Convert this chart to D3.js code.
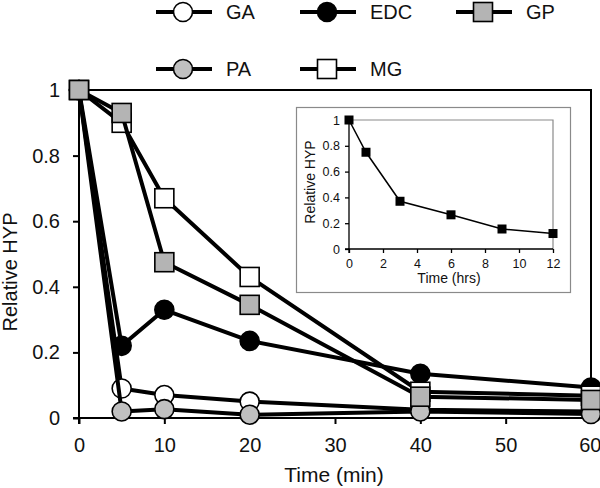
<!DOCTYPE html>
<html><head><meta charset="utf-8">
<script src="https://cdn.jsdelivr.net/npm/d3@7"></script>
<style>body{margin:0;background:#fff}svg{display:block}text{font-family:"Liberation Sans",Arial,sans-serif;fill:#111}</style>
</head><body>
<script>
const times = [0, 5, 10, 20, 40, 60];
const seriesNames = ["GA", "PA", "EDC", "MG", "GP"];
const GA  = [1, 0.09, 0.07, 0.05, 0.025, 0.02];
const PA  = [1, 0.02, 0.027, 0.01, 0.02, 0.012];
const EDC = [1, 0.22, 0.33, 0.235, 0.135, 0.093];
const MG  = [1, 0.90, 0.67, 0.43, 0.08, 0.068];
const GP  = [1, 0.93, 0.475, 0.345, 0.065, 0.055];
const xTicks = [0, 10, 20, 30, 40, 50, 60];
const yTicks = [0, 0.2, 0.4, 0.6, 0.8, 1];
const legendOrder = ["GA", "EDC", "GP", "PA", "MG"];
const insetHours = [0, 1, 3, 6, 9, 12];
const insetValues = [1, 0.75, 0.37, 0.265, 0.155, 0.12];
const insetXTicks = [0, 2, 4, 6, 8, 10, 12];
const insetYTicks = [0, 0.2, 0.4, 0.6, 0.8, 1];

const valuesBy = {GA, PA, EDC, MG, GP};
const style = {
  GA: {shape: "circle", fill: "#ffffff"},
  PA: {shape: "circle", fill: "#c0c0c0"},
  EDC: {shape: "circle", fill: "#000000"},
  MG: {shape: "square", fill: "#ffffff"},
  GP: {shape: "square", fill: "#b4b4b4"}
};

const W = 600, H = 488;
const svg = d3.select("body").append("svg").attr("width", W).attr("height", H);

const x = d3.scaleLinear().domain([0, 60]).range([79, 591]);
const y = d3.scaleLinear().domain([0, 1]).range([418, 90]);

function marker(g, name, cx, cy) {
  const s = style[name];
  if (s.shape === "circle") {
    g.append("circle").attr("cx", cx).attr("cy", cy).attr("r", 9.5)
      .attr("fill", s.fill).attr("stroke", "#000").attr("stroke-width", 1.6);
  } else {
    g.append("rect").attr("x", cx - 9.5).attr("y", cy - 9.5).attr("width", 19).attr("height", 19)
      .attr("fill", s.fill).attr("stroke", "#000").attr("stroke-width", 1.6);
  }
}

// frame (top and right)
svg.append("path").attr("d", `M${x(0)},${y(1)}H${x(60)}V${y(0)}`)
  .attr("fill", "none").attr("stroke", "#000").attr("stroke-width", 2);

// axes
const fmt = d => d === 0 ? "0" : d === 1 ? "1" : d3.format(".1f")(d);
const xAxis = svg.append("g").attr("transform", `translate(0,${y(0)})`)
  .call(d3.axisBottom(x).tickValues(xTicks).tickSize(6).tickPadding(14).tickFormat(d3.format("d")));
const yAxis = svg.append("g").attr("transform", `translate(${x(0)},0)`)
  .call(d3.axisLeft(y).tickValues(yTicks).tickSize(6).tickPadding(13).tickFormat(fmt));
[xAxis, yAxis].forEach(a => {
  a.select(".domain").attr("stroke", "#000").attr("stroke-width", 2);
  a.selectAll(".tick line").attr("stroke", "#000").attr("stroke-width", 2);
  a.selectAll(".tick text").attr("font-size", 20).attr("fill", "#111")
    .attr("font-family", "'Liberation Sans',Arial,sans-serif");
});
xAxis.selectAll(".tick text").filter(d => d === 60).attr("text-anchor", "end").attr("x", 10);
yAxis.select(".domain").attr("d", `M-6,${y(0)}H0V${y(1)}`);
xAxis.select(".domain").attr("d", `M${x(0)},6V0H${x(60)}`);

svg.append("text").attr("x", 334).attr("y", 482).attr("text-anchor", "middle")
  .attr("font-size", 21).text("Time (min)");
svg.append("text").attr("transform", "translate(17,272) rotate(-90)").attr("text-anchor", "middle")
  .attr("font-size", 20).text("Relative HYP");

// inset
const ix = d3.scaleLinear().domain([0, 12]).range([349, 553]);
const iy = d3.scaleLinear().domain([0, 1]).range([249, 120]);
const inset = svg.append("g");
inset.append("rect").attr("x", 296.5).attr("y", 107.5).attr("width", 274).attr("height", 185)
  .attr("fill", "#fff").attr("stroke", "#8a8a8a").attr("stroke-width", 1.2);
inset.append("path").attr("d", `M${ix(0)},${iy(1)}H${ix(12)}V${iy(0)}`)
  .attr("fill", "none").attr("stroke", "#8a8a8a").attr("stroke-width", 1.2);
const ixA = inset.append("g").attr("transform", `translate(0,${iy(0)})`)
  .call(d3.axisBottom(ix).tickValues(insetXTicks).tickSize(4).tickPadding(6).tickFormat(d3.format("d")));
const iyA = inset.append("g").attr("transform", `translate(${ix(0)},0)`)
  .call(d3.axisLeft(iy).tickValues(insetYTicks).tickSize(4).tickPadding(5).tickFormat(fmt));
[ixA, iyA].forEach(a => {
  a.select(".domain").attr("stroke", "#000").attr("stroke-width", 1.3);
  a.selectAll(".tick line").attr("stroke", "#000").attr("stroke-width", 1.3);
  a.selectAll(".tick text").attr("font-size", 12.5).attr("fill", "#222")
    .attr("font-family", "'Liberation Sans',Arial,sans-serif");
});
iyA.select(".domain").attr("d", `M-4,${iy(0)}H0V${iy(1)}`);
ixA.select(".domain").attr("d", `M${ix(0)},4V0H${ix(12)}`);
inset.append("text").attr("x", 449).attr("y", 283).attr("text-anchor", "middle")
  .attr("font-size", 14).text("Time (hrs)");
inset.append("text").attr("transform", "translate(315,182) rotate(-90)").attr("text-anchor", "middle")
  .attr("font-size", 14).text("Relative HYP");
const insetPts = insetHours.map((h, i) => [h, insetValues[i]]);
inset.append("path").datum(insetPts)
  .attr("d", d3.line().x(d => ix(d[0])).y(d => iy(d[1])))
  .attr("fill", "none").attr("stroke", "#000").attr("stroke-width", 1.5);
inset.selectAll("rect.pt").data(insetPts).enter().append("rect").attr("class", "pt")
  .attr("x", d => ix(d[0]) - 4.5).attr("y", d => iy(d[1]) - 4.5)
  .attr("width", 9).attr("height", 9).attr("fill", "#000");

// main series
const line = d3.line().x(d => x(d[0])).y(d => y(d[1]));
seriesNames.forEach(name => {
  const pts = times.map((t, i) => [t, valuesBy[name][i]]);
  const g = svg.append("g");
  g.append("path").datum(pts).attr("d", line)
    .attr("fill", "none").attr("stroke", "#000").attr("stroke-width", 4).attr("stroke-linejoin", "round");
  pts.forEach(p => marker(g, name, x(p[0]), y(p[1])));
});

// legend
const legPos = {
  GA: [183, 12], EDC: [327, 12], GP: [483, 12],
  PA: [183, 69], MG: [327, 69]
};
legendOrder.forEach(name => {
  const [cx, cy] = legPos[name];
  const g = svg.append("g");
  g.append("line").attr("x1", cx - 27).attr("x2", cx + 29).attr("y1", cy).attr("y2", cy)
    .attr("stroke", "#000").attr("stroke-width", 4);
  marker(g, name, cx, cy);
  g.append("text").attr("x", cx + 43).attr("y", cy + 7).attr("font-size", 20).text(name);
});
</script>
</body></html>
